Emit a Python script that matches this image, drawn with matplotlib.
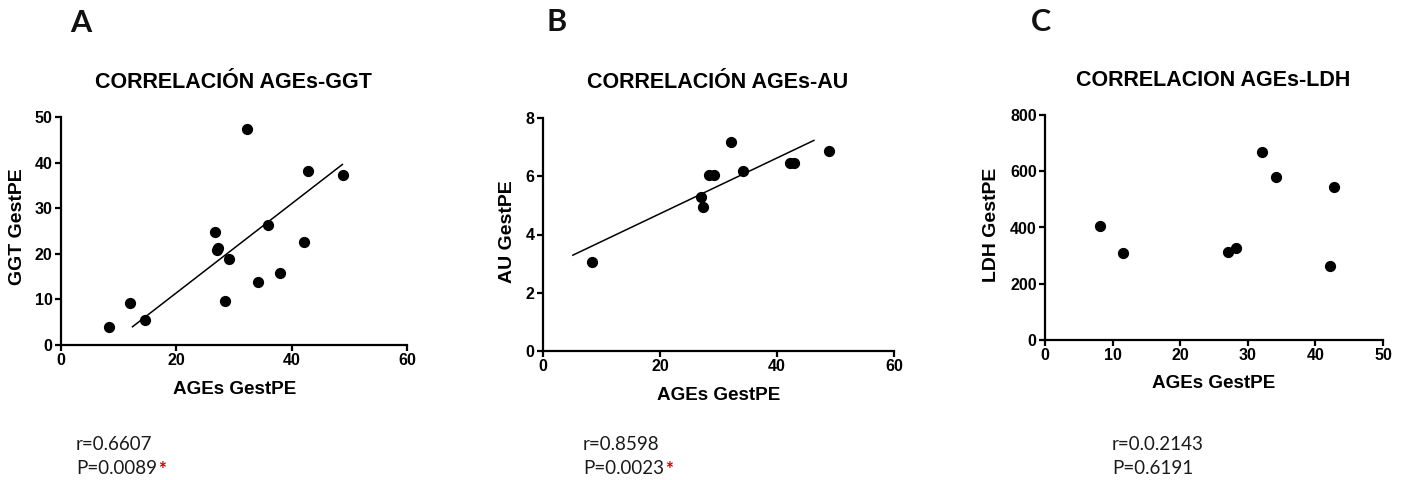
import numpy as np
import matplotlib
matplotlib.use("Agg")
from matplotlib import pyplot as plt

# panel A: AGEs vs GGT
ggt_x = [8.4, 11.9, 14.6, 26.7, 27.3, 27.0, 29.2, 28.4, 32.2, 34.1, 35.9, 38.0, 42.1, 42.8, 48.9]
ggt_y = [4.0, 9.3, 5.5, 24.8, 21.3, 20.8, 18.8, 9.7, 47.3, 13.9, 26.3, 15.8, 22.6, 38.2, 37.2]
ggt_fit_x = [12.4, 48.8]
ggt_fit_y = [4.0, 39.6]

# panel B: AGEs vs AU
au_x = [8.3, 26.95, 27.35, 28.3, 29.2, 32.2, 34.2, 42.2, 42.9, 48.9]
au_y = [3.06, 5.29, 4.95, 6.06, 6.06, 7.18, 6.17, 6.47, 6.47, 6.87]
au_fit_x = [5.1, 46.3]
au_fit_y = [3.29, 7.23]

# panel C: AGEs vs LDH
ldh_x = [8.1, 11.6, 27.1, 28.2, 32.1, 34.2, 42.1, 42.8]
ldh_y = [405, 310, 312, 328, 667, 581, 264, 545]

titles = ["CORRELACIÓN AGEs-GGT", "CORRELACIÓN AGEs-AU", "CORRELACION AGEs-LDH"]
ylabels = ["GGT GestPE", "AU GestPE", "LDH GestPE"]
r_text = ["r=0.6607", "r=0.8598", "r=0.0.2143"]
p_text = ["P=0.0089", "P=0.0023", "P=0.6191"]
p_star = [True, True, False]
letters = ["A", "B", "C"]

sans = ["Liberation Sans", "DejaVu Sans"]
plt.rcParams["font.family"] = sans
plt.rcParams["font.weight"] = "bold"

W, H = 1401, 480
fig = plt.figure(figsize=(W / 100, H / 100), dpi=100)


def px(x, y):
    return x / W, 1 - y / H


def make_axes(l, t, r, b):
    x0, y1 = px(l, t)
    x1, y0 = px(r, b)
    ax = fig.add_axes([x0, y0, x1 - x0, y1 - y0])
    for s in ["top", "right"]:
        ax.spines[s].set_visible(False)
    for s in ["left", "bottom"]:
        ax.spines[s].set_linewidth(1.6)
    ax.tick_params(direction="out", length=4, width=1.6, labelsize=11.5, pad=2)
    return ax


axA = make_axes(61, 117, 407, 345)
axA.scatter(ggt_x, ggt_y, s=50, color="black", zorder=3, clip_on=False)
axA.plot(ggt_fit_x, ggt_fit_y, color="black", lw=1.1)
axA.set_xlim(0, 60)
axA.set_ylim(0, 50)
axA.set_xticks([0, 20, 40, 60])
axA.set_yticks([0, 10, 20, 30, 40, 50])

axB = make_axes(543, 118, 894, 351)
axB.scatter(au_x, au_y, s=50, color="black", zorder=3, clip_on=False)
axB.plot(au_fit_x, au_fit_y, color="black", lw=1.1)
axB.set_xlim(0, 60)
axB.set_ylim(0, 8)
axB.set_xticks([0, 20, 40, 60])
axB.set_yticks([0, 2, 4, 6, 8])

axC = make_axes(1045, 115, 1383, 340)
axC.scatter(ldh_x, ldh_y, s=50, color="black", zorder=3, clip_on=False)
axC.set_xlim(0, 50)
axC.set_ylim(0, 800)
axC.set_xticks([0, 10, 20, 30, 40, 50])
axC.set_yticks([0, 200, 400, 600, 800])

# titles, axis labels, panel letters, stats (pixel positions)
title_pos = [(233, 82), (718, 83), (1213, 81)]
xlab_pos = [(235, 389), (719, 396), (1214, 383)]
ylab_pos = [(18, 227), (507, 232), (992, 225)]
letter_pos = [(81, 23), (557, 22), (1041, 22)]
stat_pos = [(76, 445), (583, 445), (1112, 445)]
stat_font = ["Lato", "DejaVu Sans"]

for i in range(3):
    fig.text(*px(*title_pos[i]), titles[i], ha="center", va="center",
             fontsize=15.5, fontweight="bold")
    fig.text(*px(*xlab_pos[i]), "AGEs GestPE", ha="center", va="center",
             fontsize=13.6, fontweight="bold")
    fig.text(*px(*ylab_pos[i]), ylabels[i], ha="center", va="center",
             rotation=90, fontsize=14, fontweight="bold")
    fig.text(*px(*letter_pos[i]), letters[i], ha="center", va="center",
             fontsize=22, fontweight="bold", family=stat_font, color="#111111")
    sx, sy = stat_pos[i]
    fig.text(*px(sx, sy), r_text[i], ha="left", va="center",
             fontsize=13.5, fontweight="normal", family=stat_font, color="#1a1a1a")
    t = fig.text(*px(sx, sy + 24), p_text[i], ha="left", va="center",
                 fontsize=13.5, fontweight="normal", family=stat_font, color="#1a1a1a")
    if p_star[i]:
        fig.canvas.draw()
        bb = t.get_window_extent()
        fig.text(bb.x1 / W + 0.0005, (bb.y1 - 1) / H, "*", ha="left", va="top",
                 fontsize=13.5, fontweight="bold", family=stat_font, color="#cc0000")

fig.savefig("out.png", dpi=100)
